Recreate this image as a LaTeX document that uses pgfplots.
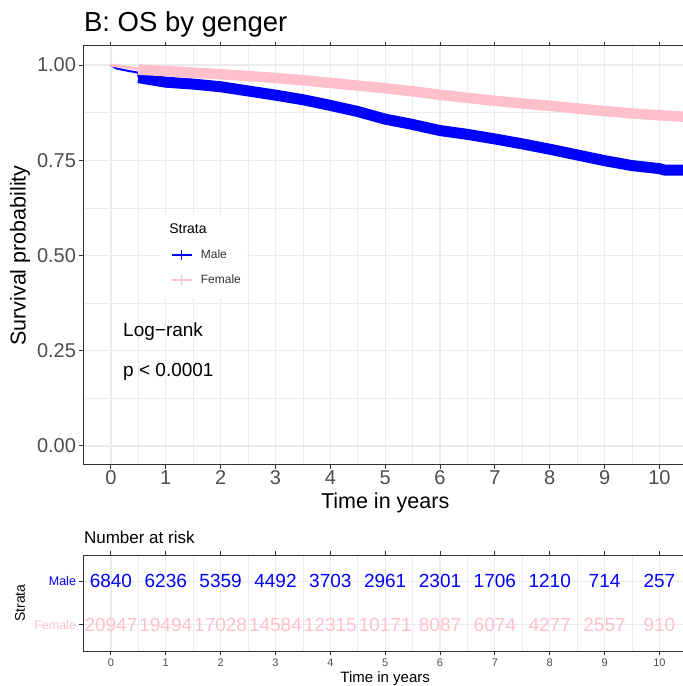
\documentclass[border=0pt]{standalone}
\usepackage{fontspec}
\setmainfont{Liberation Sans}
\usepackage{pgfplots}
\usepackage{pgfplotstable}
\pgfplotsset{compat=1.18}

\definecolor{male}{HTML}{0000FF}
\definecolor{female}{HTML}{FFC0CB}
\definecolor{gridc}{HTML}{EBEBEB}
\definecolor{frame}{HTML}{333333}
\definecolor{ticklab}{HTML}{4D4D4D}
\newcommand{\fs}[1]{\fontsize{#1}{#1}\selectfont}

% Kaplan-Meier estimates (years, survival)
\pgfplotstableread{
t s
0    1.000
0.1  0.991
0.3  0.985
0.5  0.980
0.5  0.967
}\maleearly
\pgfplotstableread{
t s
0.5  0.967
1.0  0.955
1.5  0.950
2.0  0.943
2.5  0.932
3.0  0.921
3.5  0.909
4.0  0.894
4.5  0.878
5.0  0.858
5.5  0.844
6.0  0.828
6.5  0.818
7.0  0.806
7.5  0.793
8.0  0.779
8.5  0.764
9.0  0.749
9.5  0.736
10.0 0.728
10.1 0.724
10.5 0.724
}\malelate
\pgfplotstableread{
t s
0    1.000
0.25 0.995
0.5  0.990
}\femaleearly
\pgfplotstableread{
t s
0.5  0.988
1.0  0.984
1.5  0.980
2.0  0.976
2.5  0.971
3.0  0.966
3.5  0.960
4.0  0.953
4.5  0.946
5.0  0.939
5.5  0.931
6.0  0.922
6.5  0.914
7.0  0.906
7.5  0.899
8.0  0.893
8.5  0.886
9.0  0.879
9.5  0.873
10.0 0.868
10.5 0.864
}\femalelate

% number at risk
\pgfplotstableread{
t row n
0  2 6840
1  2 6236
2  2 5359
3  2 4492
4  2 3703
5  2 2961
6  2 2301
7  2 1706
8  2 1210
9  2 714
10 2 257
}\malerisk
\pgfplotstableread{
t row n
0  1 20947
1  1 19494
2  1 17028
3  1 14584
4  1 12315
5  1 10171
6  1 8087
7  1 6074
8  1 4277
9  1 2557
10 1 910
}\femalerisk

\pgfplotsset{
  kmbase/.style={
    scale only axis,
    xmin=-0.5, xmax=10.43,
    xtick={0,...,10},
    minor x tick num=1,
    axis x line*=box, axis y line*=left,
    axis line style={frame, line width=1pt},
    tick style={frame, line width=1pt},
    tick align=outside,
    major tick length=4pt,
    minor tick length=0pt,
    grid=both,
    major grid style={gridc, line width=1.2pt},
    minor grid style={gridc, line width=0.7pt},
    /pgf/number format/assume math mode=true,
    tick label style={text=ticklab},
  },
}

\begin{document}
\begin{tikzpicture}
\path[use as bounding box] (0,0) rectangle (683pt,686pt);

% survival curves
\begin{axis}[kmbase,
  at={(83.5pt,221pt)}, anchor=south west,
  width=599.5pt, height=419pt,
  ymin=-0.05, ymax=1.05,
  ytick={0,0.25,0.5,0.75,1},
  minor y tick num=1,
  yticklabels={0.00,0.25,0.50,0.75,1.00},
  tick label style={font=\fs{20}},
  xticklabel style={yshift=1.5pt},
  title={B: OS by genger},
  every axis title/.style={at={(rel axis cs:0,1)}, anchor=base west, xshift=-3pt, yshift=14pt, font=\fs{27.5}},
  xlabel={Time in years},
  ylabel={Survival probability},
  every axis x label/.style={at={(axis cs:5,-0.05)}, anchor=center, yshift=-38pt, font=\fs{21.5}},
  every axis y label/.style={at={(rel axis cs:0,0.5)}, anchor=center, xshift=-63.5pt, rotate=90, font=\fs{21.5}},
  legend style={at={(axis cs:1.08,0.521)}, anchor=north west, draw=none, fill=none,
    inner sep=0pt, row sep=11pt, font=\fs{12}, legend cell align=left,
    nodes={text=black!80},
    /tikz/every odd column/.append style={column sep=6pt}},
  legend image code/.code={
    \draw[#1, line width=2.5pt] (0pt,0pt) -- (20pt,0pt);
    \draw[#1, line width=1.5pt] (10pt,-5pt) -- (10pt,5pt);},
]
\addplot[male, line width=2pt, forget plot] table[x=t, y=s] {\maleearly};
\addplot[male, line width=11pt, line cap=butt, forget plot] table[x=t, y=s] {\malelate};
\addplot[female, line width=3pt, forget plot] table[x=t, y=s] {\femaleearly};
\addplot[female, line width=10.5pt, line cap=butt, forget plot] table[x=t, y=s] {\femalelate};

\fill[white] (axis cs:0.9,0.606) rectangle (axis cs:2.49,0.388);
\node[anchor=west, font=\fs{14}] at (axis cs:1.0,0.570) {Strata};
\node[anchor=west, font=\fs{19}] at (axis cs:0.16,0.299) {Log−rank};
\node[anchor=west, font=\fs{19}] at (axis cs:0.16,0.194) {p < 0.0001};

\addlegendimage{male}
\addlegendentry{Male}
\addlegendimage{female}
\addlegendentry{Female}
\end{axis}

% risk table
\begin{axis}[kmbase,
  at={(83.5pt,35pt)}, anchor=south west,
  width=599.5pt, height=96pt,
  ymin=0.4, ymax=2.6,
  ytick={1,2},
  yticklabels={\textcolor{female}{Female},\textcolor{male}{Male}},
  minor y tick num=0,
  xticklabel style={font=\fs{11}},
  yticklabel style={font=\fs{12.5}},
  title={Number at risk},
  every axis title/.style={at={(rel axis cs:0,1)}, anchor=base west, xshift=-3pt, yshift=12pt, font=\fs{17}},
  xlabel={Time in years},
  ylabel={Strata},
  every axis x label/.style={at={(axis cs:5,0.4)}, anchor=center, yshift=-28pt, font=\fs{15}},
  every axis y label/.style={at={(rel axis cs:0,0.5)}, anchor=center, xshift=-63.5pt, rotate=90, font=\fs{14}},
  nodes near coords align=center,
  clip=false,
]
\addplot[draw=none, mark=none, nodes near coords, point meta=explicit symbolic,
  every node near coord/.append style={text=male, font=\fs{19}, inner sep=0pt}]
  table[x=t, y=row, meta=n] {\malerisk};
\addplot[draw=none, mark=none, nodes near coords, point meta=explicit symbolic,
  every node near coord/.append style={text=female, font=\fs{19}, inner sep=0pt}]
  table[x=t, y=row, meta=n] {\femalerisk};
\end{axis}
\end{tikzpicture}
\end{document}
